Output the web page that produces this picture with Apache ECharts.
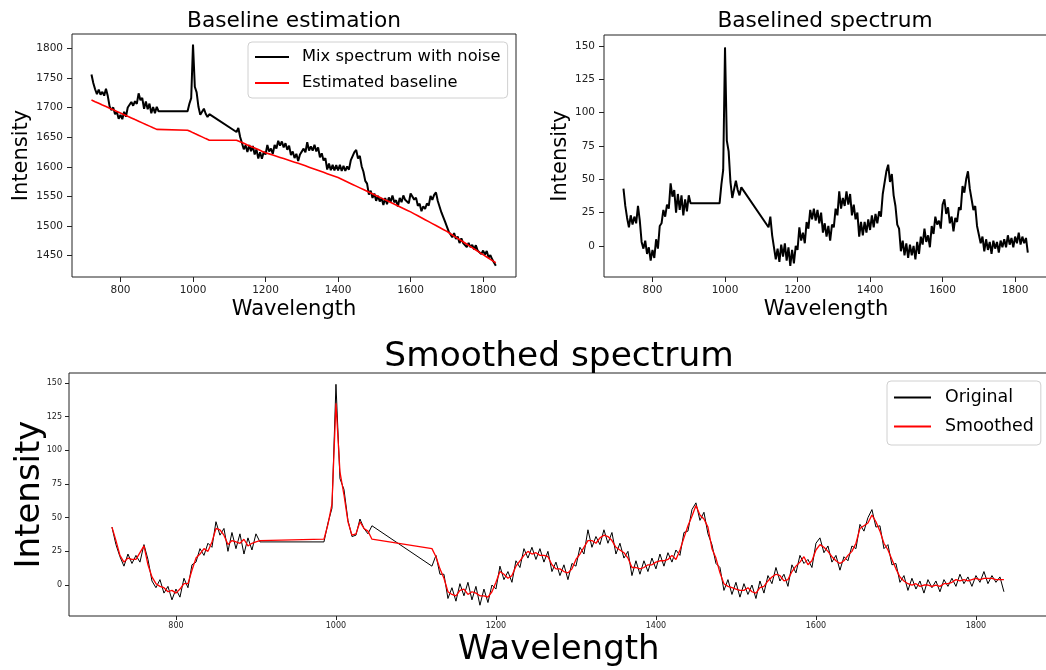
<!DOCTYPE html>
<html><head><meta charset="utf-8">
<script src="https://cdn.jsdelivr.net/npm/echarts@6/dist/echarts.min.js"></script>
<style>html,body{margin:0;padding:0;background:#fff}#c{width:1046px;height:670px}</style>
</head><body><div id="c"></div>
<script>
// ---------------- data ----------------
const wavelength = [
 720,725,730,735,740,745,750,755,760,765,770,775,780,785,790,795,800,805,810,815,820,825,830,835,840,845,850,855,860,865,870,875,880,885,890,895,900,905,
 985,990,995,1000,1005,1010,1015,1020,1025,1030,1035,1040,1045,
 1120,1125,1130,1135,1140,1145,1150,1155,1160,1165,1170,1175,1180,1185,1190,1195,1200,1205,1210,1215,1220,1225,1230,1235,1240,1245,1250,1255,1260,1265,1270,1275,1280,1285,1290,1295,1300,
 1305,1310,1315,1320,1325,1330,1335,1340,1345,1350,1355,1360,1365,1370,1375,1380,1385,1390,1395,1400,
 1405,1410,1415,1420,1425,1430,1435,1440,1445,1450,1455,1460,1465,1470,1475,1480,1485,1490,1495,1500,
 1505,1510,1515,1520,1525,1530,1535,1540,1545,1550,1555,1560,1565,1570,1575,1580,1585,1590,1595,1600,
 1605,1610,1615,1620,1625,1630,1635,1640,1645,1650,1655,1660,1665,1670,1675,1680,1685,1690,1695,1700,
 1705,1710,1715,1720,1725,1730,1735,1740,1745,1750,1755,1760,1765,1770,1775,1780,1785,1790,1795,1800,1805,1810,1815,1820,1825,1830,1835
];
// baselined spectrum (the "Original" curve)
const originalSpectrum = [
 43,30,21,14,23,16,22,17,30,19,3,-2,4,-6,-1,-11,-3,-9,5,-2,15,17,27,22,31,28,47,37,42,25,39,27,38,23,35,26,38,32,
 32,46,57,149,79,71,48,36,37,49,42,38,44,
 14,22,8,8,-10,-2,-12,1,-8,2,-11,-1,-15,-3,-13,0,-3,14,4,10,2,18,13,27,20,28,19,27,17,25,10,17,7,15,4,16,14,
 28,23,41,28,36,30,41,31,39,23,31,20,25,7,18,8,18,10,20,12,
 23,14,24,17,26,22,39,40,56,61,48,54,38,30,16,13,-4,4,-7,2,
 -9,1,-7,0,-10,3,-6,7,1,13,3,8,-1,15,9,22,16,19,13,31,
 35,24,29,17,22,11,21,18,29,27,45,40,50,56,43,44,27,30,15,16,
 2,7,-4,5,-3,3,-6,4,-2,3,-5,4,-1,5,-1,8,1,6,-1,7,2,10,1,7,2,6,-5
];
const smoothedSpectrum = [
 43,33,22,17,20,19,19,24,29,15,6,1,-1,-2,-5,-4,-6,-3,1,1,11,20,23,27,25,32,42,41,37,30,33,32,31,34,29,31,32,33,
 34,45,60,135,84,67,47,37,38,47,42,40,34,
 27,21,12,5,-5,-7,-8,-4,-3,-7,-5,-6,-8,-8,-9,-5,2,10,8,5,7,14,18,22,25,23,24,22,22,21,15,12,12,10,9,12,19,
 23,28,33,33,31,35,37,36,33,28,26,24,20,13,13,12,13,15,15,17,
 18,18,19,22,19,26,35,44,51,59,52,49,43,27,20,9,1,-1,-2,-3,
 -4,-4,-2,-5,-6,-2,-1,3,6,8,7,3,4,10,14,17,21,15,18,26,
 30,28,25,21,18,16,18,22,25,31,42,44,46,52,47,40,31,26,19,12,
 6,3,1,0,1,-1,0,0,-1,0,-1,1,1,2,4,3,4,3,4,5,4,5,5,5,4,4,4
];
const estimatedBaseline = [
 1713.0,1711.6,1710.2,1708.9,1707.5,1706.1,1704.7,1703.4,1702.0,1700.6,1699.2,1697.8,1696.5,1695.1,1693.7,1692.3,1690.9,1689.6,1688.2,1686.8,1685.4,1684.1,1682.7,1681.3,1679.9,1678.5,1677.2,1675.8,1674.4,1673.0,1671.6,1670.3,1668.9,1667.5,1666.1,1664.8,1663.4,1662.0,
 1662.0,1660.6,1659.2,1657.8,1656.3,1654.9,1653.5,1652.1,1650.7,1649.3,1647.8,1646.4,1645.0,
 1645.0,1643.7,1642.4,1641.1,1639.8,1638.4,1637.1,1635.8,1634.5,1633.2,1631.9,1630.6,1629.3,1627.9,1626.6,1625.3,1624.0,
 1623,1622,1621,1620,1619,1618,1617,1616,1615,1614,1613,1612,1611,1610,1609,1608,1607,1606,1605,1604,
 1602.9,1601.8,1600.7,1599.6,1598.5,1597.4,1596.3,1595.2,1594.1,1593.0,1591.9,1590.8,1589.7,1588.6,1587.5,1586.4,1585.3,1584.2,1583.1,1582.0,
 1580.6,1579.1,1577.7,1576.2,1574.8,1573.3,1571.9,1570.4,1569.0,1567.5,1566.1,1564.6,1563.2,1561.7,1560.3,1558.8,1557.4,1555.9,1554.5,1553.0,
 1551.6,1550.1,1548.7,1547.2,1545.8,1544.3,1542.9,1541.4,1540.0,1538.5,1537.1,1535.6,1534.2,1532.7,1531.3,1529.8,1528.4,1526.9,1525.5,1524.0,
 1522.4,1520.7,1519.1,1517.4,1515.8,1514.1,1512.5,1510.8,1509.2,1507.5,1505.9,1504.2,1502.6,1500.9,1499.3,1497.6,1496.0,1494.3,1492.7,1491.0,
 1489.0,1487.1,1485.1,1483.1,1481.2,1479.2,1477.3,1475.3,1473.3,1471.4,1469.4,1467.4,1465.5,1463.5,1461.5,1459.6,1457.6,1455.7,1453.7,1451.7,1449.8,1447.8,1445.8,1443.9,1441.9,1439.9,1438.0
];
const xTicks = [800, 1000, 1200, 1400, 1600, 1800];
const yTicksRaw = [1450, 1500, 1550, 1600, 1650, 1700, 1750, 1800];
const yTicksBaselined = [0, 25, 50, 75, 100, 125, 150];

// ---------------- build ----------------
// mix spectrum = baselined spectrum + estimated baseline
const mixSpectrum = originalSpectrum.map((v, i) => +(v + estimatedBaseline[i]).toFixed(1));
const pairs = ys => wavelength.map((w, i) => [w, ys[i]]);

const FONT = 'DejaVu Sans';
const INK = '#000';
const plain = v => String(v);

function xAxis(gridIndex, labelSize, margin, nameSize, nameGap, tickLen) {
  return {
    type: 'value', gridIndex, min: 666.3, max: 1890.7,
    name: 'Wavelength', nameLocation: 'middle', nameGap,
    nameTextStyle: { fontFamily: FONT, fontSize: nameSize, color: INK },
    axisLine: { show: false, onZero: false }, splitLine: { show: false },
    axisTick: { show: true, inside: false, length: tickLen, lineStyle: { color: '#222', width: 1 }, customValues: xTicks },
    axisLabel: { fontFamily: FONT, fontSize: labelSize, color: '#222', margin, customValues: xTicks, formatter: plain }
  };
}
function yAxis(gridIndex, min, max, ticks, labelSize, margin, nameSize, nameGap, tickLen, moveOverlap) {
  return {
    type: 'value', gridIndex, min, max,
    name: 'Intensity', nameLocation: 'middle', nameGap, nameMoveOverlap: moveOverlap,
    nameTextStyle: { fontFamily: FONT, fontSize: nameSize, color: INK },
    axisLine: { show: false, onZero: false }, splitLine: { show: false },
    axisTick: { show: true, inside: false, length: tickLen, lineStyle: { color: '#222', width: 1 }, customValues: ticks },
    axisLabel: { fontFamily: FONT, fontSize: labelSize, color: '#222', margin, customValues: ticks, formatter: plain }
  };
}
function legend(names, left, top, padding, itemWidth, itemGap, fontSize, textPad) {
  return {
    data: names, orient: 'vertical', left, top, padding,
    itemWidth, itemHeight: 14, itemGap, selectedMode: false,
    itemStyle: { opacity: 0, borderWidth: 0 },
    backgroundColor: 'rgba(255,255,255,0.8)', borderColor: '#d0d0d0', borderWidth: 1, borderRadius: 4,
    textStyle: { fontFamily: FONT, fontSize, color: INK, padding: [0, 0, 0, textPad] }
  };
}
function title(text, x, y, size) {
  return { type: 'text', x, y, style: { text, fontFamily: FONT, fontSize: size, fill: INK, align: 'center', verticalAlign: 'middle' } };
}

const gridStyle = { show: true, borderColor: '#222', borderWidth: 1, backgroundColor: 'transparent', containLabel: false, outerBoundsMode: 'none' };

const option = {
  animation: false,
  backgroundColor: '#fff',
  grid: [
    Object.assign({ left: 72, top: 34, width: 444, height: 243 }, gridStyle),
    Object.assign({ left: 604, top: 35, width: 444, height: 242 }, gridStyle),
    Object.assign({ left: 69, top: 373, width: 979.5, height: 243 }, gridStyle)
  ],
  xAxis: [
    xAxis(0, 10.5, 8, 21, 22, 5),
    xAxis(1, 10.5, 8, 21, 22, 5),
    xAxis(2, 8, 6, 34, 17, 4)
  ],
  yAxis: [
    yAxis(0, 1414, 1824.5, yTicksRaw, 10.5, 9, 21, 33, 5, true),
    yAxis(1, -23.3, 158.3, yTicksBaselined, 10.5, 9, 21, 26, 5, true),
    yAxis(2, -23, 157.4, yTicksBaselined, 8, 7, 34, 22, 4, false)
  ],
  legend: [
    legend(['Mix spectrum with noise', 'Estimated baseline'], 248, 42, [7, 7, 7, 6], 34, 10, 16.3, 8),
    legend(['Original', 'Smoothed'], 887, 381, [8, 7, 10, 6], 37, 12, 17.4, 9)
  ],
  graphic: [
    title('Baseline estimation', 294, 21, 21.7),
    title('Baselined spectrum', 825, 21, 21.7),
    title('Smoothed spectrum', 559, 357, 34.4)
  ],
  series: [
    { name: 'Mix spectrum with noise', type: 'line', xAxisIndex: 0, yAxisIndex: 0, data: pairs(mixSpectrum),
      symbol: 'none', showSymbol: false, lineStyle: { color: '#000', width: 2 }, itemStyle: { color: '#000' } },
    { name: 'Estimated baseline', type: 'line', xAxisIndex: 0, yAxisIndex: 0, data: pairs(estimatedBaseline),
      symbol: 'none', showSymbol: false, lineStyle: { color: '#ff0000', width: 1.6 }, itemStyle: { color: '#ff0000' } },
    { name: 'Baselined spectrum', type: 'line', xAxisIndex: 1, yAxisIndex: 1, data: pairs(originalSpectrum),
      symbol: 'none', showSymbol: false, lineStyle: { color: '#000', width: 2 }, itemStyle: { color: '#000' } },
    { name: 'Original', type: 'line', xAxisIndex: 2, yAxisIndex: 2, data: pairs(originalSpectrum),
      symbol: 'none', showSymbol: false, lineStyle: { color: '#000', width: 1 }, itemStyle: { color: '#000' } },
    { name: 'Smoothed', type: 'line', xAxisIndex: 2, yAxisIndex: 2, data: pairs(smoothedSpectrum),
      symbol: 'none', showSymbol: false, lineStyle: { color: '#ff0000', width: 1.3 }, itemStyle: { color: '#ff0000' } }
  ]
};

const chart = echarts.init(document.getElementById('c'), null, { renderer: 'canvas', width: 1046, height: 670 });
chart.setOption(option);
</script>
</body></html>
